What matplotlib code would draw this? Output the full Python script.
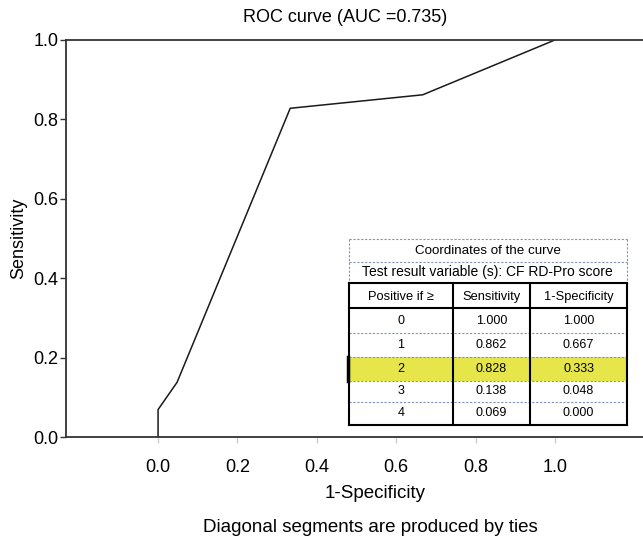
import matplotlib
matplotlib.use("Agg")
import matplotlib.pyplot as plt
from matplotlib.patches import Rectangle

# ROC curve points (1-Specificity, Sensitivity)
fpr = [0.0, 0.0, 0.048, 0.333, 0.667, 1.0]
tpr = [0.0, 0.069, 0.138, 0.828, 0.862, 1.0]

# table contents
col_headers = ["Positive if \u2265", "Sensitivity", "1-Specificity"]
cutoffs = ["0", "1", "2", "3", "4"]
sens_vals = ["1.000", "0.862", "0.828", "0.138", "0.069"]
spec_vals = ["1.000", "0.667", "0.333", "0.048", "0.000"]
highlight_row = 2

W, H = 643, 537
plt.rcParams['font.family'] = ['Liberation Sans', 'DejaVu Sans']

fig = plt.figure(figsize=(W / 100, H / 100), dpi=100)
ax = fig.add_axes([66 / W, 1 - 437 / H, (643 - 66) / W, (437 - 40) / H])

ax.plot(fpr, tpr, color='#1a1a1a', lw=1.1)
ax.set_xlim(-0.232, 1.222)
ax.set_ylim(0, 1.0)
ax.set_xticks([0, 0.2, 0.4, 0.6, 0.8, 1.0])
ax.set_yticks([0, 0.2, 0.4, 0.6, 0.8, 1.0])
ax.set_xticklabels([f"{v:.1f}" for v in ax.get_xticks()], fontsize=13)
ax.set_yticklabels([f"{v:.1f}" for v in ax.get_yticks()], fontsize=13)
ax.tick_params(axis='y', length=4, width=1, color='#333333', pad=1.5)
ax.tick_params(axis='x', length=4, width=1, color='#cccccc', pad=12)
ax.spines['right'].set_visible(False)
for s in ['left', 'bottom', 'top']:
    ax.spines[s].set_linewidth(1.3)
    ax.spines[s].set_color('#333333')
ax.set_ylabel("Sensitivity", fontsize=13, labelpad=4)


def px(x, y):
    return x / W, 1 - y / H


fig.text(*px(345, 17), "ROC curve (AUC =0.735)", ha='center', va='center', fontsize=13)
fig.text(*px(375, 494), "1-Specificity", ha='center', va='center', fontsize=13.5)
fig.text(*px(370, 527), "Diagonal segments are produced by ties",
         ha='center', va='center', fontsize=13.5)


def hline(x0, x1, y, **kw):
    fig.add_artist(plt.Line2D([x0 / W, x1 / W], [1 - y / H, 1 - y / H], **kw))


def vline(x, y0, y1, **kw):
    fig.add_artist(plt.Line2D([x / W, x / W], [1 - y0 / H, 1 - y1 / H], **kw))


dash = dict(color='#7f93b8', lw=0.8, ls=(0, (2, 1.5)))
solid = dict(color='black', lw=1.5)

# table header box
tx0, tx1 = 349, 627
fig.add_artist(Rectangle(px(tx0, 283), (tx1 - tx0) / W, (283 - 239) / H,
                         transform=fig.transFigure, fc='white', ec='none'))
hline(tx0, tx1, 239, **dash)
hline(tx0, tx1, 262, **dash)
vline(tx0, 239, 283, **dash)
vline(tx1, 239, 283, **dash)
fig.text(*px(488, 251), "Coordinates of the curve", ha='center', va='center', fontsize=9.6)
fig.text(*px(487, 272), "Test result variable (s): CF RD-Pro score",
         ha='center', va='center', fontsize=10)

# table body
cols = [349, 453, 530, 627]
rows = [283, 308, 333, 357, 381, 402, 425]
fig.add_artist(Rectangle(px(tx0, 425), (tx1 - tx0) / W, (425 - 283) / H,
                         transform=fig.transFigure, fc='white', ec='none'))
r0, r1 = rows[highlight_row + 1], rows[highlight_row + 2]
fig.add_artist(Rectangle(px(347, r1), (tx1 - 347) / W, (r1 - r0) / H,
                         transform=fig.transFigure, fc='#e6e64a', ec='none'))
vline(348, r0, r1, color='black', lw=2.5)
for j, h in enumerate(col_headers):
    fig.text((cols[j] + cols[j + 1]) / 2 / W, 1 - 297 / H, h,
             ha='center', va='center', fontsize=9.3)
for i in range(len(cutoffs)):
    yc = (rows[i + 1] + rows[i + 2]) / 2
    for j, v in enumerate([cutoffs[i], sens_vals[i], spec_vals[i]]):
        fig.text((cols[j] + cols[j + 1]) / 2 / W, 1 - yc / H, v,
                 ha='center', va='center', fontsize=9)
for y in rows[2:-1]:
    hline(tx0, tx1, y, **dash)
hline(tx0, tx1, rows[0], **solid)
hline(tx0, tx1, rows[1], **solid)
hline(tx0, tx1, rows[-1], **solid)
for x in cols:
    vline(x, rows[0], rows[-1], **solid)

fig.savefig("out.png", dpi=100)
